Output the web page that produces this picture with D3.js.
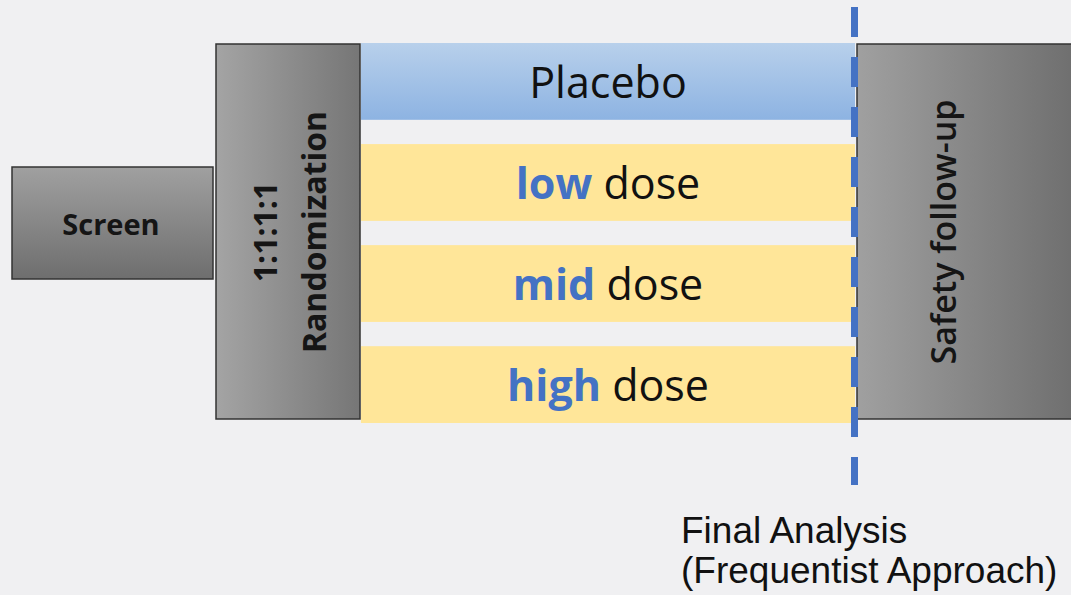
<!DOCTYPE html>
<html>
<head>
<meta charset="utf-8">
<script src="https://cdn.jsdelivr.net/npm/d3@7"></script>
<style>
  html, body { margin: 0; padding: 0; background: #f0f0f2; }
  svg { display: block; }
</style>
</head>
<body>
<div id="chart"></div>
<script>
// Study design values
const arms = ["Placebo", "low dose", "mid dose", "high dose"];
const armLead = ["", "low", "mid", "high"];
const armTail = ["Placebo", " dose", " dose", " dose"];
const armType = ["placebo", "active", "active", "active"];
const stageScreen = "Screen";
const stageRandom = ["1:1:1:1", "Randomization"];
const stageSafety = "Safety follow-up";
const analysisLabel = ["Final Analysis", "(Frequentist Approach)"];

const W = 1071, H = 595;
const svg = d3.select("#chart").append("svg")
  .attr("width", W)
  .attr("height", H);

svg.append("rect").attr("width", W).attr("height", H).attr("fill", "#f0f0f2");

const defs = svg.append("defs");
function grad(id, x2, y2, c1, c2) {
  const g = defs.append("linearGradient").attr("id", id)
    .attr("x1", 0).attr("y1", 0).attr("x2", x2).attr("y2", y2);
  g.append("stop").attr("offset", "0%").attr("stop-color", c1);
  g.append("stop").attr("offset", "100%").attr("stop-color", c2);
}
grad("gScreen", 0, 1, "#a0a0a0", "#6e6e6e");
grad("gRand", 1, 0, "#a4a4a4", "#767676");
grad("gSafety", 1, 0, "#a0a0a0", "#6c6c6c");
grad("gPlacebo", 0, 1, "#b8d0eb", "#8db3e2");

// arm rows
const y = d3.scaleBand().domain(arms).range([43, 423]).paddingInner(0.24);
const armX0 = 361, armX1 = 855;

svg.selectAll(".arm")
  .data(arms)
  .enter().append("rect")
  .attr("class", "arm")
  .attr("x", armX0)
  .attr("y", d => y(d))
  .attr("width", armX1 - armX0)
  .attr("height", y.bandwidth())
  .attr("fill", (d, i) => armType[i] === "placebo" ? "url(#gPlacebo)" : "#ffe699");

const armText = svg.selectAll(".arm-label")
  .data(arms)
  .enter().append("text")
  .attr("class", "arm-label")
  .attr("x", (armX0 + armX1) / 2)
  .attr("y", d => y(d) + y.bandwidth() * 0.72)
  .attr("text-anchor", "middle")
  .attr("font-family", "'Open Sans', sans-serif")
  .attr("font-size", "43px")
  .attr("fill", "#111");
armText.append("tspan")
  .attr("font-weight", "bold")
  .attr("fill", "#4472c4")
  .text((d, i) => armLead[i]);
armText.append("tspan")
  .style("white-space", "pre")
  .text((d, i) => armTail[i]);

// Screen box
svg.append("rect")
  .attr("x", 12).attr("y", 167).attr("width", 201).attr("height", 112)
  .attr("fill", "url(#gScreen)").attr("stroke", "#333").attr("stroke-width", 1.5);
svg.append("text")
  .attr("x", 111).attr("y", 235)
  .attr("text-anchor", "middle")
  .attr("font-family", "'Open Sans', sans-serif")
  .attr("font-weight", "bold")
  .attr("font-size", "29px")
  .attr("fill", "#151515")
  .text(stageScreen);

// Randomization box
svg.append("rect")
  .attr("x", 216).attr("y", 44).attr("width", 144).attr("height", 375)
  .attr("fill", "url(#gRand)").attr("stroke", "#333").attr("stroke-width", 1.5);
const rt = svg.append("text")
  .attr("transform", "translate(0,232) rotate(-90)")
  .attr("text-anchor", "middle")
  .attr("font-family", "'Open Sans', sans-serif")
  .attr("font-weight", "bold")
  .attr("font-size", "32px")
  .attr("fill", "#151515");
rt.append("tspan").attr("x", 0).attr("y", 277).text(stageRandom[0]);
rt.append("tspan").attr("x", 0).attr("y", 326).text(stageRandom[1]);

// Safety follow-up box
svg.append("rect")
  .attr("x", 857).attr("y", 44).attr("width", 230).attr("height", 375)
  .attr("fill", "url(#gSafety)").attr("stroke", "#333").attr("stroke-width", 1.5);
svg.append("text")
  .attr("transform", "translate(0,232) rotate(-90)")
  .attr("x", 0).attr("y", 956)
  .attr("text-anchor", "middle")
  .attr("font-family", "'Open Sans', sans-serif")
  .attr("font-weight", 600)
  .attr("font-size", "34px")
  .attr("fill", "#151515")
  .text(stageSafety);

// Final analysis dashed line
svg.append("line")
  .attr("x1", 854.5).attr("x2", 854.5)
  .attr("y1", 7).attr("y2", 485)
  .attr("stroke", "#4472c4")
  .attr("stroke-width", 7)
  .attr("stroke-dasharray", "30,20");

svg.append("text")
  .attr("x", 681).attr("y", 543)
  .attr("font-family", "'Liberation Sans', Arial, sans-serif")
  .attr("font-size", "37px")
  .attr("fill", "#111")
  .selectAll("tspan")
  .data(analysisLabel)
  .enter().append("tspan")
  .attr("x", 681)
  .attr("dy", (d, i) => i === 0 ? 0 : "1.08em")
  .text(d => d);
</script>
</body>
</html>
